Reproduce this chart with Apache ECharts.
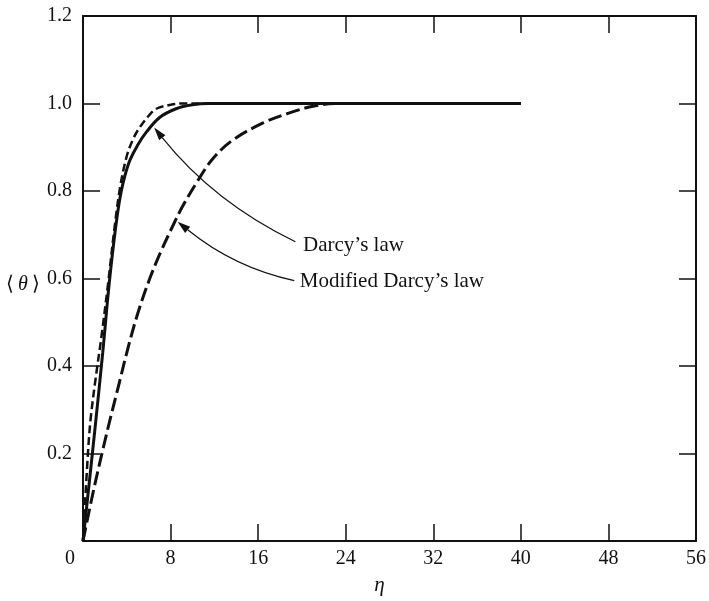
<!DOCTYPE html>
<html>
<head>
<meta charset="utf-8">
<script src="https://cdn.jsdelivr.net/npm/echarts@6/dist/echarts.min.js"></script>
<style>html,body{margin:0;padding:0;background:#fff;}#c{width:709px;height:601px;}</style>
</head>
<body>
<div id="c"></div>
<script>
// ---- data ----
var xTicks = [0, 8, 16, 24, 32, 40, 48, 56];
var yTicks = [0, 0.2, 0.4, 0.6, 0.8, 1.0, 1.2];

var etaDarcy   = [0, 0.6, 1.15, 1.8, 2.4, 3.0, 3.5, 4.2, 5.0, 5.8, 7.0, 8.5, 10, 11.5, 20, 30, 40];
var thetaDarcy = [0, 0.14, 0.27, 0.43, 0.59, 0.72, 0.80, 0.865, 0.905, 0.935, 0.968, 0.988, 0.997, 1.0, 1.0, 1.0, 1.0];

var etaDashed   = [0, 0.45, 0.7, 1.2, 1.7, 2.3, 2.9, 3.4, 4.0, 4.6, 5.2, 6.0, 6.7, 8.0, 9.0, 20, 30, 40];
var thetaDashed = [0, 0.2, 0.28, 0.38, 0.47, 0.59, 0.72, 0.81, 0.88, 0.92, 0.946, 0.972, 0.988, 0.997, 1.0, 1.0, 1.0, 1.0];

var etaModified   = [0, 1.0, 2.3, 3.2, 4.1, 5.0, 6.1, 7.0, 8.2, 9.1, 10.4, 11.8, 13.6, 16.4, 18.8, 20.9, 23, 30, 40];
var thetaModified = [0, 0.12, 0.26, 0.35, 0.44, 0.52, 0.60, 0.655, 0.72, 0.765, 0.82, 0.872, 0.915, 0.955, 0.978, 0.993, 1.0, 1.0, 1.0];

// annotation leaders: [start(text end), control, tip] in data units
var darcyLeader    = [[19.4, 0.684], [12.0, 0.773], [6.5, 0.945]];
var modifiedLeader = [[19.3, 0.595], [13.8, 0.625], [8.64, 0.730]];
var darcyText    = {label: "Darcy\u2019s law", at: [20.1, 0.675]};
var modifiedText = {label: "Modified Darcy\u2019s law", at: [19.8, 0.594]};

function zip(a, b) { return a.map(function (v, i) { return [v, b[i]]; }); }

var FONT = '"Liberation Serif", "Times New Roman", serif';
var INK = '#111';

var chart = echarts.init(document.getElementById('c'), null, {renderer: 'canvas'});

var baseX = {
  type: 'value', min: 0, max: 56, interval: 8,
  axisLine: {show: true, onZero: false, lineStyle: {color: INK, width: 2}},
  axisTick: {show: true, inside: true, length: 17, lineStyle: {color: INK, width: 1.5}},
  splitLine: {show: false}
};
var baseY = {
  type: 'value', min: 0, max: 1.2, interval: 0.2,
  axisLine: {show: true, onZero: false, lineStyle: {color: INK, width: 2}},
  axisTick: {show: true, inside: true, length: 17, lineStyle: {color: INK, width: 1.5}},
  splitLine: {show: false}
};

var option = {
  backgroundColor: '#fff',
  animation: false,
  grid: {left: 83, right: 10, top: 16, bottom: 56},
  xAxis: [
    Object.assign({}, baseX, {
      position: 'bottom',
      name: '\u03b7', nameLocation: 'middle', nameGap: 34,
      nameTextStyle: {fontFamily: FONT, fontSize: 21, fontStyle: 'italic', color: INK, padding: [0, 20, 0, 0]},
      axisLabel: {
        show: true, margin: 8, color: INK, fontFamily: FONT, fontSize: 20,
        formatter: function (v) {
          var i = xTicks.indexOf(v);
          if (i < 0) return '';
          return v === 0 ? '{z|' + xTicks[i] + '}' : String(xTicks[i]);
        },
        rich: {z: {fontFamily: FONT, fontSize: 20, color: INK, padding: [0, 26, 0, 0]}}
      }
    }),
    Object.assign({}, baseX, {position: 'top', axisLabel: {show: false}})
  ],
  yAxis: [
    Object.assign({}, baseY, {
      position: 'left',
      axisLabel: {
        show: true, margin: 11, color: INK, fontFamily: FONT, fontSize: 20,
        formatter: function (v) {
          var i = yTicks.findIndex(function (t) { return Math.abs(t - v) < 1e-9; });
          if (i <= 0) return '';
          return yTicks[i].toFixed(1);
        }
      }
    }),
    Object.assign({}, baseY, {position: 'right', axisLabel: {show: false}})
  ],
  series: [
    {
      name: 'Darcy\u2019s law', type: 'line', xAxisIndex: 0, yAxisIndex: 0,
      data: zip(etaDarcy, thetaDarcy), showSymbol: false, smooth: 0.35,
      lineStyle: {color: INK, width: 3, type: 'solid'}
    },
    {
      name: 'dashed', type: 'line', xAxisIndex: 0, yAxisIndex: 0,
      data: zip(etaDashed, thetaDashed), showSymbol: false, smooth: 0.35,
      lineStyle: {color: INK, width: 2.5, type: [8, 4]}
    },
    {
      name: 'Modified Darcy\u2019s law', type: 'line', xAxisIndex: 0, yAxisIndex: 0,
      data: zip(etaModified, thetaModified), showSymbol: false, smooth: 0.35,
      lineStyle: {color: INK, width: 3, type: [14, 5]}
    }
  ]
};
chart.setOption(option);

function px(p) { return chart.convertToPixel({xAxisIndex: 0, yAxisIndex: 0}, p); }

function leader(pts) {
  var p0 = px(pts[0]), c = px(pts[1]), p2 = px(pts[2]);
  var dx = p2[0] - c[0], dy = p2[1] - c[1];
  var L = Math.sqrt(dx * dx + dy * dy); dx /= L; dy /= L;
  var len = 13, w = 4;
  var bx = p2[0] - dx * len, by = p2[1] - dy * len;
  var nx = -dy, ny = dx;
  return [
    {type: 'bezierCurve', silent: true,
     shape: {x1: p0[0], y1: p0[1], x2: bx, y2: by, cpx1: c[0], cpy1: c[1]},
     style: {stroke: INK, lineWidth: 1.2, fill: null}},
    {type: 'polygon', silent: true,
     shape: {points: [[p2[0], p2[1]], [bx + nx * w, by + ny * w], [bx - nx * w, by - ny * w]]},
     style: {fill: INK}}
  ];
}

function label(t) {
  var p = px(t.at);
  return {type: 'text', silent: true, x: p[0], y: p[1],
    style: {text: t.label, fontFamily: FONT, fontSize: 21, fill: INK, align: 'left', verticalAlign: 'middle'}};
}

var ylab = {type: 'text', silent: true, x: 6, y: 285,
  style: {text: '\u27e8\u2009{i|\u03b8}\u2009\u27e9', fontFamily: FONT, fontSize: 20, fill: INK,
    align: 'left', verticalAlign: 'middle',
    rich: {i: {fontFamily: FONT, fontSize: 20, fontStyle: 'italic', fill: INK}}}};

chart.setOption({graphic: [].concat(leader(darcyLeader), leader(modifiedLeader),
  [label(darcyText), label(modifiedText), ylab])});
</script>
</body>
</html>
